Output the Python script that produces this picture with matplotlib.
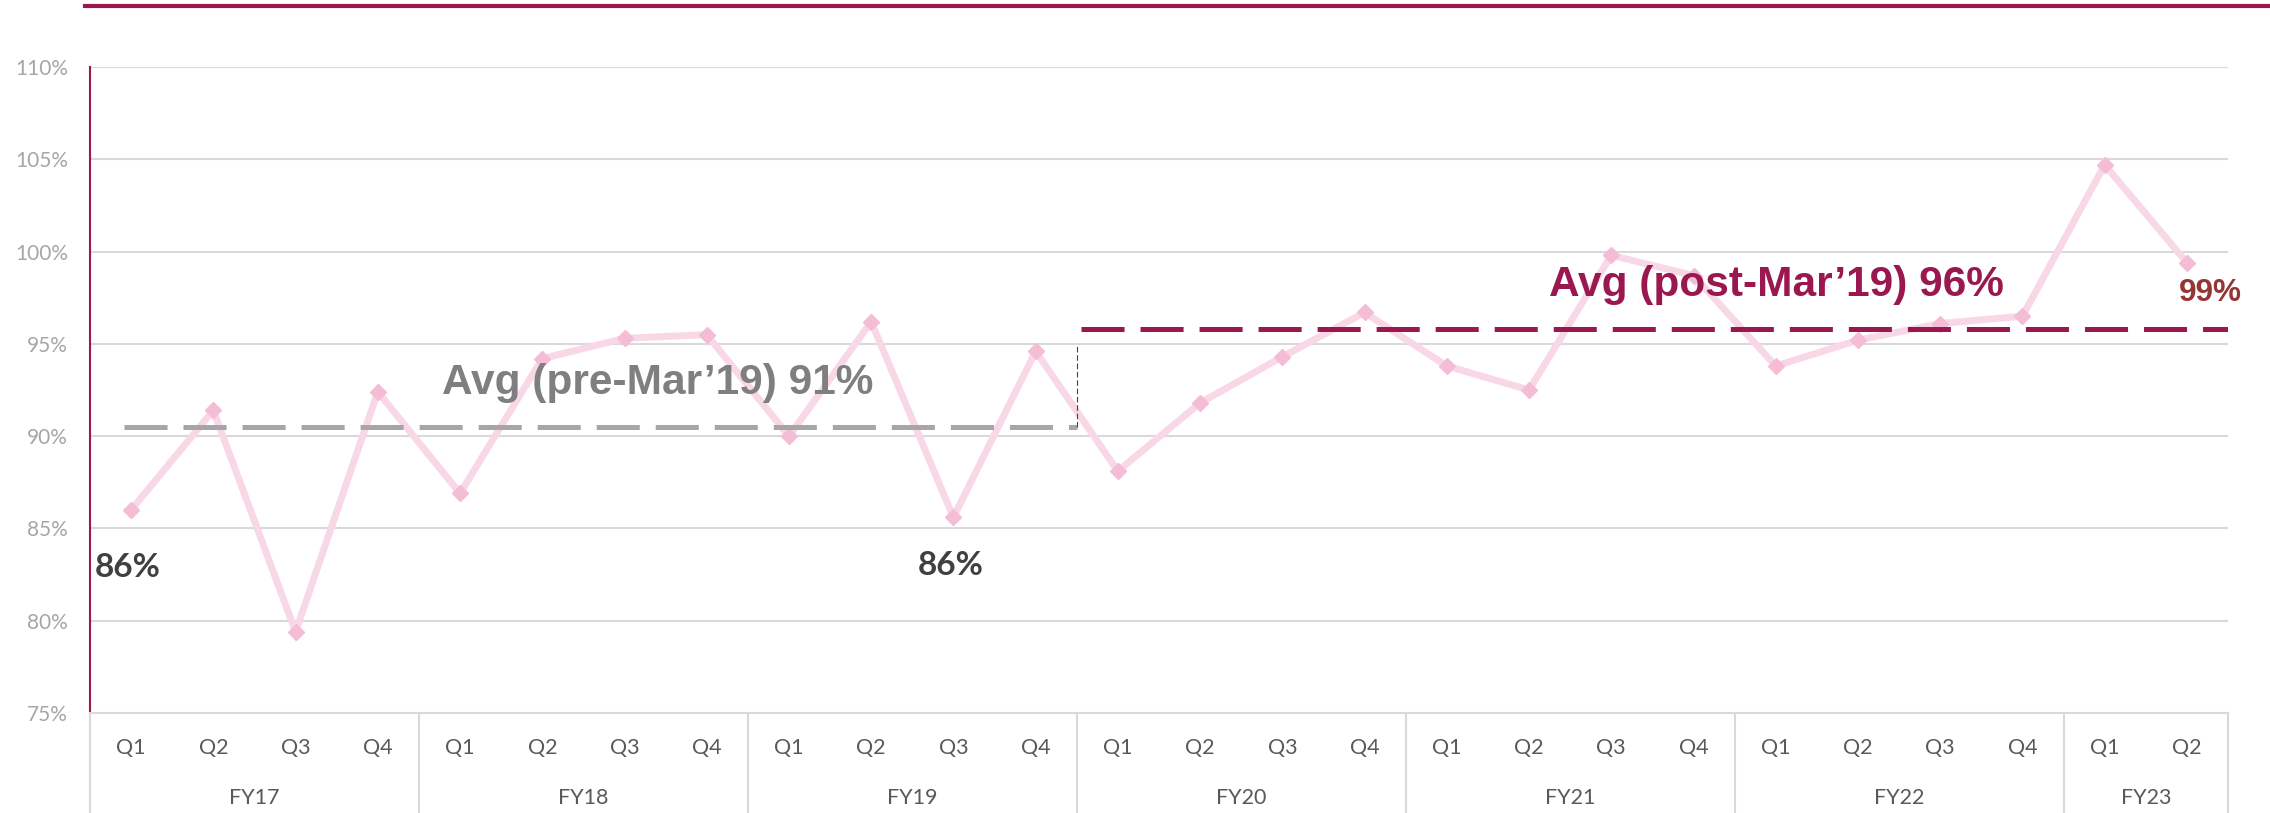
import matplotlib
matplotlib.use("Agg")
import matplotlib.pyplot as plt
from matplotlib.lines import Line2D
import matplotlib.transforms as mtransforms

# ---- data ----
YEARS = ["FY17", "FY18", "FY19", "FY20", "FY21", "FY22", "FY23"]
QUARTERS_PER_YEAR = [4, 4, 4, 4, 4, 4, 2]
VALUES = [
    86.0, 91.4, 79.4, 92.4,   # FY17
    86.9, 94.2, 95.3, 95.5,   # FY18
    90.0, 96.2, 85.6, 94.6,   # FY19
    88.1, 91.8, 94.3, 96.7,   # FY20
    93.8, 92.5, 99.8, 98.7,   # FY21
    93.8, 95.2, 96.1, 96.5,   # FY22
    104.7, 99.4,              # FY23
]
AVG_PRE = 90.5
AVG_POST = 95.8
Y_TICKS = [75, 80, 85, 90, 95, 100, 105, 110]

CRIMSON = "#9A1750"
GRID = "#D9D9D9"
LINE_PINK = "#F8D8E6"
MARK_PINK = "#F4BDD5"

plt.rcParams["lines.scale_dashes"] = False
ARIAL = ["Liberation Sans", "DejaVu Sans"]
BODY = ["Lato", "DejaVu Sans"]

quarter_labels = []
for n in QUARTERS_PER_YEAR:
    quarter_labels += [f"Q{i + 1}" for i in range(n)]
x = list(range(len(VALUES)))

fig = plt.figure(figsize=(22.7, 8.13), dpi=100)
ax = fig.add_axes([90 / 2270, 1 - 713 / 813, (2228 - 90) / 2270, (713 - 67) / 813])

ax.set_xlim(-0.5, len(VALUES) - 0.5)
ax.set_ylim(75, 110)

for v in Y_TICKS[1:]:
    ax.axhline(v, color=GRID, lw=1.5, zorder=0)

ax.plot(x, VALUES, color=LINE_PINK, lw=5, zorder=2, solid_joinstyle="miter")
ax.plot(x, VALUES, ls="none", marker="D", ms=8, color=MARK_PINK, zorder=3)

# average lines
split = 11.5
ax.plot([-0.09, split], [AVG_PRE, AVG_PRE], color="#A6A6A6", lw=3.6,
        dashes=(31, 11.5), zorder=4)
ax.plot([split + 0.05, len(VALUES) - 0.5], [AVG_POST, AVG_POST], color=CRIMSON,
        lw=3.6, dashes=(31, 11.5), zorder=4)
ax.plot([split, split], [AVG_PRE, 95.0], color=CRIMSON, lw=0.8,
        dashes=(4, 2), zorder=4)

ax.text(3.78, 92.27, "Avg (pre-Mar\u201919) 91%", family=ARIAL, weight="bold",
        fontsize=30.5, color="#7F7F7F", va="baseline", ha="left", zorder=5)
ax.text(17.24, 97.57, "Avg (post-Mar\u201919) 96%", family=ARIAL, weight="bold",
        fontsize=30.5, color=CRIMSON, va="baseline", ha="left", zorder=5)
ax.text(-0.04, 82.86, "86%", family=BODY, weight="bold", fontsize=24,
        color="#404040", ha="center", va="center", zorder=5)
ax.text(9.97, 82.97, "86%", family=BODY, weight="bold", fontsize=24,
        color="#404040", ha="center", va="center", zorder=5)
ax.text(25.28, 97.76, "99%", family=ARIAL, weight="bold", fontsize=22.7,
        color="#943634", ha="center", va="center", zorder=5, clip_on=False)

# axes styling
for side in ["top", "right"]:
    ax.spines[side].set_visible(False)
ax.spines["left"].set_color(CRIMSON)
ax.spines["left"].set_linewidth(1.5)
ax.spines["bottom"].set_color(GRID)
ax.spines["bottom"].set_linewidth(1.5)

ax.set_yticks(Y_TICKS)
ax.set_yticklabels([f"{v}%" for v in Y_TICKS], family=BODY, fontsize=15,
                   color="#A6A6A6")
ax.tick_params(axis="y", length=0, pad=16)

ax.set_xticks(x)
ax.set_xticklabels(quarter_labels, family=BODY, fontsize=15.5, color="#595959")
ax.tick_params(axis="x", length=0, pad=18)

# year labels and separators below the axis
trans = mtransforms.blended_transform_factory(ax.transData, ax.transAxes)
bottom = -(813 - 713) / (713 - 67)
start = -0.5
bounds = [start]
for year, n in zip(YEARS, QUARTERS_PER_YEAR):
    ax.text(start + n / 2, -0.1316, year, transform=trans, family=BODY,
            fontsize=15.5, color="#595959", ha="center", va="center")
    start += n
    bounds.append(start)
for b in bounds:
    ax.plot([b, b], [0, bottom], transform=trans, color=GRID, lw=1.5,
            clip_on=False)

# top rule
fig.add_artist(Line2D([85 / 2270, 1], [1 - 6 / 813, 1 - 6 / 813], color=CRIMSON,
                      lw=3, transform=fig.transFigure))

fig.savefig("out.png", dpi=100)
